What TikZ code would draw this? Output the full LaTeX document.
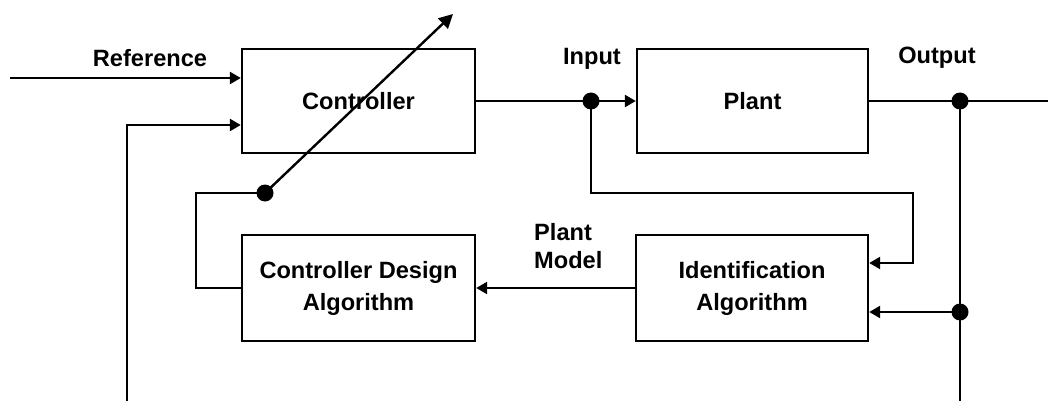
\documentclass[tikz,border=0pt]{standalone}
\usepackage{fontspec}
\setmainfont{Liberation Sans}
\usetikzlibrary{arrows.meta,calc}
\begin{document}
\begin{tikzpicture}[x=0.5pt,y=-0.5pt,
  line width=1.2pt,
  every node/.style={font=\fontsize{11.8}{14}\selectfont\bfseries},
  blk/.style={draw,rectangle,inner sep=0pt,align=center},
  arr/.style={-{Triangle[length=5.5pt,width=6pt]}},
  bigarr/.style={-{Triangle[length=7pt,width=7pt]}},
  junc/.style={circle,fill=black,inner sep=0pt,minimum size=8.5pt},
  lbl/.style={inner sep=0pt}]
\useasboundingbox (0,0) rectangle (1048,401);
% blocks
\node[blk,minimum width=116.5pt,minimum height=52pt] (ctrl) at (358.5,101) {Controller};
\node[blk,minimum width=115.5pt,minimum height=52pt] (plant) at (752.5,101) {Plant};
\node[blk,minimum width=116.5pt,minimum height=53pt] (cda) at (358.5,288) {Controller Design\\[2pt]Algorithm};
\node[blk,minimum width=116pt,minimum height=53pt] (ida) at (752,288) {Identification\\[2pt]Algorithm};
% junctions
\node[junc] (jin) at (591,101) {};
\node[junc] (jout) at (960,101) {};
\node[junc] (jout2) at (960,312) {};
\node[junc] (jadj) at (265,193) {};
% free ends
\coordinate (refstart) at (10,78);
\coordinate (fbbot) at (127,401);
\coordinate (outend) at (1048,101);
\coordinate (outbot) at (960,401);
\coordinate (adjtip) at (453,14);
\coordinate (loopcorner) at (913,193);
\coordinate (cdacorner) at (196,288);
% labels
\node[lbl] (reflbl) at (150,58) {Reference};
\node[lbl] (inlbl) at (592,59) {Input};
\node[lbl] (outlbl) at (937,58) {Output};
\node[lbl,anchor=west,align=left] (pmlbl) at (533,246) {Plant\\Model};
% connectors
\draw[arr] (refstart) -- ([yshift=11.5pt]ctrl.west);
\draw[arr] (fbbot) |- ([yshift=-12pt]ctrl.west);
\draw (ctrl.east) -- (jin.center);
\draw[arr] (jin.center) -- (plant.west);
\draw (plant.east) -- (outend);
\draw (jout.center) -- (outbot);
\draw[arr] (jin.center) |- (loopcorner) |- ([yshift=12.5pt]ida.east);
\draw[arr] (jout2.center) -- ([yshift=-12pt]ida.east);
\draw[arr] (ida.west) -- (cda.east);
\draw (cda.west) -- (cdacorner) |- (jadj.center);
\draw[bigarr] (jadj.center) -- (adjtip);
\end{tikzpicture}
\end{document}
